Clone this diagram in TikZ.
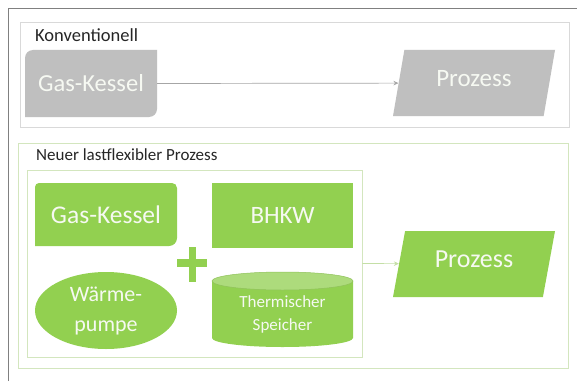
\documentclass[tikz,border=0pt]{standalone}
\usepackage{fontspec}
\setmainfont{Carlito}
\usetikzlibrary{shapes.geometric,arrows.meta}
\definecolor{kgray}{HTML}{BFBFBF}
\definecolor{kgreen}{HTML}{92D050}
\definecolor{kgreenlight}{HTML}{ADDB7C}
\definecolor{frameline}{HTML}{808080}
\definecolor{graybox}{HTML}{D9D9D9}
\definecolor{greenbox}{HTML}{D3E6BE}
\definecolor{arrowgray}{HTML}{A6A6A6}
\definecolor{arrowgreen}{HTML}{C4DFA6}
\definecolor{intext}{HTML}{F6F9F2}
\definecolor{titletext}{HTML}{262626}
\begin{document}
\begin{tikzpicture}[x=1pt,y=1pt,
  frame/.style={draw=#1, line width=0.8pt, inner sep=0},
  boxtitle/.style={anchor=west, font=\fontsize{17.5}{20}\selectfont, text=titletext, inner sep=0},
  shapetext/.style={text=intext, inner sep=0, align=center},
  procbox/.style={trapezium, trapezium left angle=65.6, trapezium right angle=114.4,
    trapezium stretches body, minimum width=162pt, minimum height=66pt, inner sep=0,
    shapetext, font=\fontsize{25}{30}\selectfont, fill=#1},
  conn/.style={-{Stealth[length=5pt,width=4.5pt]}, line width=0.7pt}
]
\useasboundingbox (0,0) rectangle (577,381);
\fill[white] (0,0) rectangle (577,381);
\draw[frameline, line width=0.8pt] (8,0) -- (8,373) -- (577,373);

% ---------- Konventionell ----------
\node[frame=graybox, minimum width=549pt, minimum height=105pt] (konv) at (294.5,306.5) {};
\node[boxtitle, font=\fontsize{18.5}{20}\selectfont] (konvt) at (35,346) {Konventionell};

\fill[kgray] (25,264) -- (25,323) arc[start angle=180,end angle=90,radius=8]
  -- (157,331) -- (157,272) arc[start angle=0,end angle=-90,radius=8] -- cycle;
\node[shapetext, minimum width=132pt, minimum height=67pt, font=\fontsize{24.5}{30}\selectfont] (gk1) at (91,297.5) {Gas-Kessel};

\node[procbox=kgray] (p1) at (474,298) {\raisebox{9pt}{Prozess}};
\draw[conn, arrowgray] (gk1.east) -- (p1);

% ---------- Neuer lastflexibler Prozess ----------
\node[frame=greenbox, minimum width=550pt, minimum height=225pt] (neu) at (293,125.5) {};
\node[boxtitle, font=\fontsize{17}{20}\selectfont] (neut) at (36,226) {Neuer lastflexibler Prozess};
\node[frame=greenbox, minimum width=335pt, minimum height=187pt] (inner) at (194.5,117.5) {};

\fill[kgreen] (35,135) -- (35,194) arc[start angle=180,end angle=90,radius=4]
  -- (172,198) arc[start angle=90,end angle=0,radius=5]
  -- (177,143) arc[start angle=0,end angle=-90,radius=8] -- cycle;
\node[shapetext, minimum width=142pt, minimum height=63pt, font=\fontsize{25.5}{30}\selectfont] (gk2) at (106,166.5) {Gas-Kessel};

\node[fill=kgreen, shapetext, minimum width=141pt, minimum height=65pt, font=\fontsize{25}{30}\selectfont] (bhkw) at (282.5,165.5) {BHKW};

\fill[kgreen] (188.5,99) rectangle (195.5,134);
\fill[kgreen] (177,114) rectangle (207,122);

\node[ellipse, fill=kgreen, shapetext, minimum width=142pt, minimum height=77pt, font=\fontsize{22}{30}\selectfont] (wp) at (106,70.5) {Wärme-\\pumpe};

\fill[kgreen] (212,100) -- (212,43) arc[start angle=180,end angle=360,x radius=70.5,y radius=9] -- (353,100) -- cycle;
\filldraw[fill=kgreenlight, draw=kgreen!85!black!60!kgreenlight, line width=0.5pt] (282.5,100) ellipse[x radius=70.5, y radius=9];
\node[shapetext, minimum width=141pt, minimum height=57pt, font=\fontsize{17}{23}\selectfont] (ts) at (282.5,66.5) {Thermischer\\Speicher};

\node[procbox=kgreen, font=\fontsize{26}{30}\selectfont] (p2) at (474,117) {\raisebox{10pt}{Prozess}};
\draw[conn, arrowgreen] (inner.east) -- (p2);
\end{tikzpicture}
\end{document}
